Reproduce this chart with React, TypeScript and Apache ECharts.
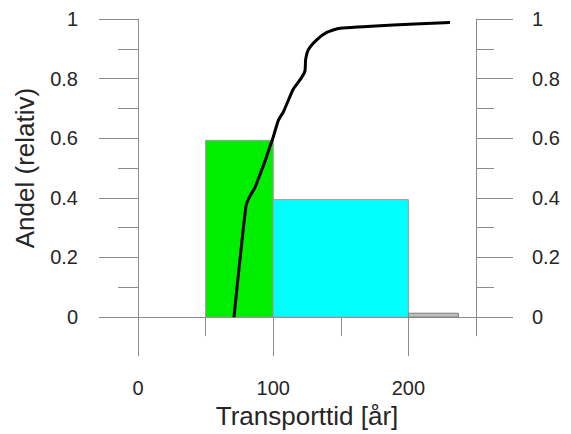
import React, { useEffect, useRef } from "react";
import * as echarts from "echarts";

// Histogram bins (relative share per transport-time class)
const binStart = [50, 100, 200];
const binEnd = [100, 200, 237];
const binShare = [0.593, 0.394, 0.013];
const binColors = ["#00ee00", "#00ffff", "#bebebe"];

// Cumulative curve
const cdfX = [71, 79.9, 82.8, 86.5, 90.2, 93.9, 97.6, 100.1, 103.8, 107.5, 114.9, 121.1, 123.5, 124, 126, 132.2, 139.6, 149.4, 188.8, 230.8];
const cdfY = [0, 0.373, 0.406, 0.434, 0.478, 0.522, 0.572, 0.605, 0.66, 0.688, 0.765, 0.804, 0.826, 0.864, 0.897, 0.93, 0.955, 0.969, 0.98, 0.988];

const xMajorTicks = [0, 100, 200];
const xMinorTicks = [50, 150, 250];

const FONT = "'Liberation Sans', Arial, sans-serif";
const AXIS = "#8c8c8c";
const TEXT = "#262626";

export default function App() {
  const ref = useRef<HTMLDivElement>(null);
  useEffect(() => {
    if (!ref.current) return;
    const chart = echarts.init(ref.current, null, { renderer: "svg" });
    const histData = binStart.map((s, i) => [s, binEnd[i], binShare[i]]);
    const cdfData = cdfX.map((x, i) => [x, cdfY[i]]);
    const yCommon = {
      type: "value",
      min: 0,
      max: 1,
      interval: 0.2,
      splitLine: { show: false },
      minorSplitLine: { show: false },
      axisLine: { show: true, onZero: false, lineStyle: { color: AXIS, width: 1 } },
    };
    chart.setOption({
      animation: false,
      textStyle: { fontFamily: FONT },
      grid: { left: 138, right: 95, top: 19, bottom: 113, containLabel: false },
      xAxis: [
        {
          type: "value",
          min: 0,
          max: 250,
          position: "bottom",
          name: "Transporttid [år]",
          nameLocation: "middle",
          nameGap: 73,
          nameTextStyle: { fontSize: 26, color: TEXT, fontFamily: FONT },
          axisLine: { show: true, onZero: false, lineStyle: { color: AXIS, width: 1 } },
          axisTick: { show: true, length: 39, customValues: xMajorTicks, lineStyle: { color: AXIS } },
          axisLabel: { customValues: xMajorTicks, margin: 61, fontSize: 20, color: TEXT, fontFamily: FONT },
          splitLine: { show: false },
        },
        {
          type: "value",
          min: 0,
          max: 250,
          position: "bottom",
          offset: 0,
          axisLine: { show: false, onZero: false },
          axisTick: { show: true, length: 19, customValues: xMinorTicks, lineStyle: { color: AXIS } },
          axisLabel: { show: false },
          splitLine: { show: false },
        },
      ],
      yAxis: [
        {
          ...yCommon,
          position: "left",
          name: "Andel (relativ)",
          nameLocation: "middle",
          nameGap: 100,
          nameTextStyle: { fontSize: 26, color: TEXT, fontFamily: FONT },
          axisTick: { show: true, length: 39, lineStyle: { color: AXIS } },
          minorTick: { show: true, splitNumber: 2, length: 20, lineStyle: { color: AXIS } },
          axisLabel: { margin: 60, fontSize: 20, color: TEXT, fontFamily: FONT },
        },
        {
          ...yCommon,
          position: "right",
          axisTick: { show: true, length: 37, lineStyle: { color: AXIS } },
          minorTick: { show: true, splitNumber: 2, length: 18, lineStyle: { color: AXIS } },
          axisLabel: { margin: 56, fontSize: 20, color: TEXT, fontFamily: FONT },
        },
      ],
      series: [
        {
          type: "custom",
          xAxisIndex: 0,
          yAxisIndex: 0,
          data: histData,
          encode: { x: [0, 1], y: 2 },
          z: 2,
          renderItem: (params: any, api: any) => {
            const p0 = api.coord([api.value(0), api.value(2)]);
            const p1 = api.coord([api.value(1), 0]);
            const i = params.dataIndex;
            return {
              type: "rect",
              shape: { x: p0[0], y: p0[1], width: p1[0] - p0[0], height: p1[1] - p0[1] },
              style: { fill: binColors[i], stroke: i === 2 ? "#7f7f7f" : "#9a9a9a", lineWidth: 1 },
            };
          },
        },
        {
          type: "line",
          xAxisIndex: 0,
          yAxisIndex: 0,
          data: cdfData,
          showSymbol: false,
          symbol: "none",
          smooth: 0.2,
          z: 5,
          lineStyle: { color: "#000", width: 3 },
        },
      ],
    });
    return () => chart.dispose();
  }, []);
  return (
    <div
      ref={ref}
      style={{ position: "fixed", left: 0, top: 0, width: 571, height: 434, background: "#fff" }}
    />
  );
}
